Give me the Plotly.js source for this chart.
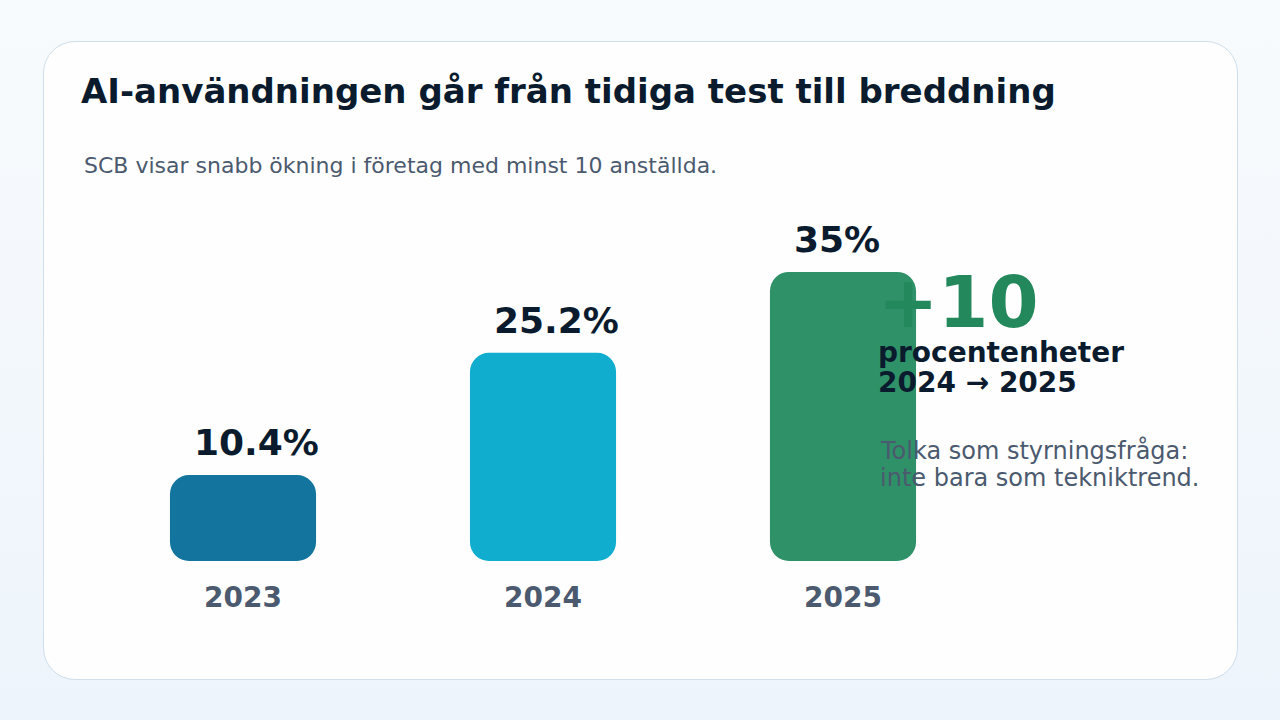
<!DOCTYPE html>
<html>
<head>
<meta charset="utf-8">
<script src="https://cdn.plot.ly/plotly-3.0.1.min.js"></script>
<style>
  html, body { margin: 0; padding: 0; }
  body {
    width: 1280px; height: 720px; overflow: hidden; position: relative;
    background: linear-gradient(180deg, #f8fbfd 0%, #edf4fb 100%);
    font-family: 'DejaVu Sans', sans-serif;
  }
  .card {
    position: absolute; left: 43px; top: 41px; width: 1193px; height: 637px;
    background: #fefefe; border: 1.5px solid #cfdeea; border-radius: 32px;
  }
  #chart { position: absolute; left: 0; top: 0; width: 1280px; height: 720px; }
</style>
</head>
<body>
<div class="card"></div>
<div id="chart"></div>
<script>
// Data
var years = ['2023', '2024', '2025'];
var values = [10.4, 25.2, 35];
var bar_colors = ['#13759e', '#10adcf', '#2f9168'];

var title_text = 'AI-användningen går från tidiga test till breddning';
var subtitle_text = 'SCB visar snabb ökning i företag med minst 10 anställda.';
var delta_unit = 'procentenheter';
var note_lines = ['Tolka som styrningsfråga:', 'inte bara som tekniktrend.'];

// Plot box (pixels)
var W = 1280, H = 720;
var margin = {l: 93, r: 287, t: 148, b: 159};
var plotW = W - margin.l - margin.r;
var plotH = H - margin.t - margin.b;

var navy = '#0b1b2e';
var grey = '#4b5a6e';
var green = '#23895c';
var font = 'DejaVu Sans';

// pixel -> paper
function px(x) { return (x - margin.l) / plotW; }
function py(y) { return (H - margin.b - y) / plotH; }

// Bars - an explicit base gives rounding on both ends
var bars = {
  type: 'bar',
  x: years,
  y: values,
  base: values.map(function () { return 0; }),
  width: 0.487,
  marker: {color: bar_colors, cornerradius: 19, line: {width: 0}},
  hoverinfo: 'skip',
  showlegend: false,
};

function value_labels() {
  var annots = [];
  for (let i = 0; i < years.length; i++) {
    annots.push({
      x: i, y: values[i], xref: 'x', yref: 'y',
      xanchor: 'left', yanchor: 'bottom', xshift: -51, yshift: 10,
      text: values[i] + '%', showarrow: false,
      font: {family: font, size: 36, weight: 700, color: navy},
    });
  }
  return annots;
}

function text_annot(text, x, y, size, weight, color) {
  return {
    x: px(x), y: py(y), xref: 'paper', yref: 'paper',
    xanchor: 'left', yanchor: 'middle', text: text, showarrow: false,
    font: {family: font, size: size, weight: weight, color: color},
  };
}

var delta = Math.round(values[2] - values[1]);

var annotations = value_labels().concat([
  text_annot(subtitle_text, 82, 165, 22, 400, grey),
  text_annot('+' + delta, 876, 302, 72, 700, green),
  text_annot(delta_unit, 876, 352, 28, 700, navy),
  text_annot(years[1] + ' → ' + years[2], 876, 382, 28, 700, navy),
  text_annot(note_lines[0], 878, 450, 24, 400, grey),
  text_annot(note_lines[1], 878, 478, 24, 400, grey),
]);

var layout = {
  width: W, height: H,
  margin: margin,
  paper_bgcolor: 'rgba(0,0,0,0)',
  plot_bgcolor: 'rgba(0,0,0,0)',
  barmode: 'overlay',
  title: {
    text: title_text,
    xref: 'container', yref: 'container',
    x: 81 / W, xanchor: 'left',
    y: 1 - 91 / H, yanchor: 'middle',
    font: {family: font, size: 34, weight: 700, color: navy},
  },
  xaxis: {
    type: 'category',
    range: [-0.5, 2.5],
    showgrid: false, zeroline: false, showline: false,
    ticks: '', ticklabelstandoff: 17,
    tickfont: {family: font, size: 28, weight: 700, color: grey},
    fixedrange: true,
  },
  yaxis: {
    range: [0, 50],
    visible: false,
    fixedrange: true,
  },
  annotations: annotations,
};

var config = {displayModeBar: false, staticPlot: true};

Plotly.newPlot('chart', [bars], layout, config);
</script>
</body>
</html>
